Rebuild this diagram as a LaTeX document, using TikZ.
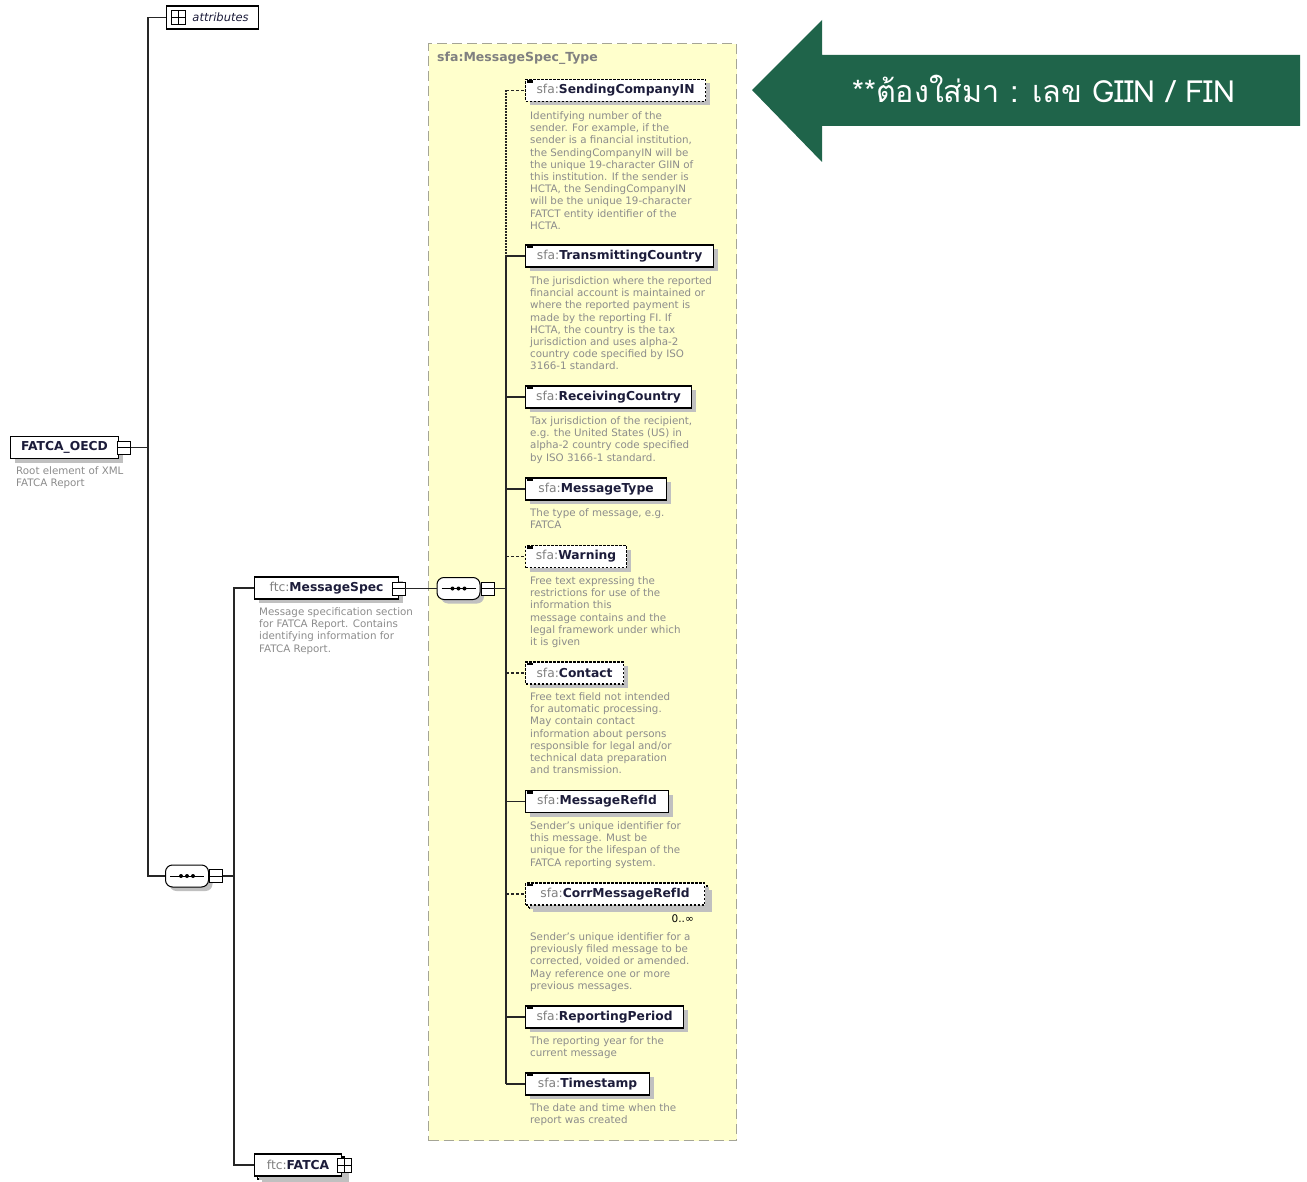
\documentclass[tikz,border=0pt]{standalone}
\usepackage{fontspec}
\setmainfont{DejaVu Sans}
\newfontfamily\thaifont[Script=Thai]{Loma}
\usetikzlibrary{shadows}
\definecolor{pfxc}{RGB}{128,128,128}
\definecolor{namec}{RGB}{28,28,58}
\definecolor{descc}{RGB}{140,140,140}
\definecolor{yel}{RGB}{255,255,204}
\definecolor{yelb}{RGB}{165,165,150}
\definecolor{grn}{RGB}{31,100,74}
\definecolor{shd}{RGB}{192,192,192}
\newcommand{\pfx}[1]{{\mdseries\color{pfxc}#1}}
\newcommand{\XEl}[5][]{%
  \node[elem,#1,minimum width=#4] (#2) at (525,#3) {\pfx{sfa:}#5};
  \fill ([xshift=2pt,yshift=-1.5pt]#2.north west) rectangle ++(6pt,-2.5pt);
}
\begin{document}
\begin{tikzpicture}[x=1pt,y=-1pt,
  conn/.style={line width=1.1pt, draw=black!85},
  optc/.style={dash pattern=on 3pt off 2pt},
  shad/.style={drop shadow={shadow xshift=4pt, shadow yshift=-4pt, fill=shd, opacity=1}},
  box/.style={draw=black, line width=1.1pt, fill=white, minimum height=22pt, inner xsep=0pt, inner ysep=0pt,
    font=\bfseries\fontsize{12.3}{14}\selectfont, text=namec, shad},
  elem/.style={box, anchor=west},
  opt/.style={dash pattern=on 2.5pt off 1.5pt},
  desc/.style={anchor=north west, inner sep=0pt, align=left, font=\fontsize{10.3}{12.2}\selectfont, text=descc},
  mbox/.style={draw=black, fill=white, line width=0.9pt, minimum size=13pt, inner sep=0pt,
    path picture={\draw[line width=0.9pt] (path picture bounding box.west) -- (path picture bounding box.east);}},
  pbox/.style={draw=black, fill=white, line width=0.9pt, minimum size=14pt, inner sep=0pt,
    path picture={\draw[line width=1pt] (path picture bounding box.west) -- (path picture bounding box.east)
      (path picture bounding box.north) -- (path picture bounding box.south);}},
  seq/.style={draw=black, fill=white, line width=1pt, rounded corners=7pt, minimum width=43pt,
    minimum height=22pt, inner sep=0pt, shad},
  typebox/.style={draw=yelb, fill=yel, line width=1.3pt, dash pattern=on 10pt off 5pt, inner sep=0pt}
]
\useasboundingbox (0,0) rectangle (1307,1182);

% type container
\node[typebox, minimum width=308pt, minimum height=1097pt, anchor=north west] (tb) at (428,43) {};
\node[anchor=west, inner sep=0pt, font=\bfseries\fontsize{12.5}{14}\selectfont, text=pfxc] (tbt) at (437,58.5) {sfa:MessageSpec\_Type};

% attributes
\node[draw=black, line width=1.1pt, fill=white, minimum width=92pt, minimum height=23pt, inner sep=0pt,
  anchor=west, font=\itshape\fontsize{11.5}{13}\selectfont, text=namec] (attr) at (166,17.5) {\hspace*{16pt}attributes};
\node[pbox] (attrp) at (178.5,17.5) {};

% root element
\node[box, minimum width=108pt, anchor=west] (oecd) at (10,447.5) {FATCA\_OECD};
\node[mbox] (oecdc) at (124,447.5) {};
\node[desc] (oecdd) at (16,466.5) {Root element of XML\\FATCA Report};

% first sequence
\node[seq] (s1) at (187,876) {};
\node[mbox] (s1c) at (216,876) {};
\draw[line width=1pt] ([xshift=5pt]s1.west) -- ([xshift=-5pt]s1.east);
\foreach \dx in {-6,0,6} \fill ([xshift=\dx pt]s1.center) circle (2pt);

\coordinate (b1) at (148,0);
\draw[conn] (attr.west) -- (attr.west -| b1) -- (s1.west -| b1) -- (s1.west);
\draw[conn] (oecdc.east) -- (oecdc.east -| b1);

% MessageSpec
\node[box, minimum width=144pt, anchor=west] (ms) at (254,588) {\pfx{ftc:}MessageSpec};
\node[mbox] (msc) at (398.5,588.5) {};
\node[desc] (msd) at (259,607.5) {Message specification section\\for FATCA Report. Contains\\identifying information for\\FATCA Report.};

% FATCA (stacked)
\node[box, minimum width=87pt, anchor=west] (fb) at (257,1168) {};
\node[box, minimum width=87pt, anchor=west] (ftc) at (254,1165) {\pfx{ftc:}FATCA};
\node[pbox] (ftcp) at (344,1165.5) {};

\coordinate (b2) at (234,0);
\draw[conn] (s1c.east) -- (s1c.east -| b2);
\draw[conn] (ms.west) -- (ms.west -| b2) -- (ftc.west -| b2) -- (ftc.west);

% second sequence
\node[seq] (s2) at (458.5,588.5) {};
\node[mbox] (s2c) at (487.5,588.5) {};
\draw[line width=1pt] ([xshift=5pt]s2.west) -- ([xshift=-5pt]s2.east);
\foreach \dx in {-6,0,6} \fill ([xshift=\dx pt]s2.center) circle (2pt);
\draw[conn] (msc.east) -- (s2.west);

% child elements
\XEl[opt]{sci}{90.5}{180pt}{SendingCompanyIN}
\XEl{tc}{256}{188pt}{TransmittingCountry}
\XEl{rc}{397}{166pt}{ReceivingCountry}
\XEl{mt}{489}{141pt}{MessageType}
\XEl[opt]{w}{556.5}{101pt}{Warning}
\XEl[opt]{c}{673}{98pt}{Contact}
\XEl{mri}{801.5}{143pt}{MessageRefId}
\node[elem,opt,minimum width=179pt] (cmrib) at (528,897) {};
\XEl[opt]{cmri}{894}{179pt}{CorrMessageRefId}
\XEl{rp}{1017}{158pt}{ReportingPeriod}
\XEl{ts}{1084}{124pt}{Timestamp}
\node[anchor=east, inner sep=0pt, font=\fontsize{10.5}{12}\selectfont] (cmrim) at (694,919) {0..∞};

\coordinate (b3) at (506,0);
\draw[conn] (s2c.east) -- (s2c.east -| b3);
\draw[conn, dash pattern=on 1.2pt off 1.8pt] (sci.west -| b3) -- (tc.west -| b3);
\draw[conn] (tc.west -| b3) -- (ts.west -| b3);
\draw[conn, optc] (sci.west -| b3) -- (sci.west);
\draw[conn] (tc.west -| b3) -- (tc.west);
\draw[conn] (rc.west -| b3) -- (rc.west);
\draw[conn] (mt.west -| b3) -- (mt.west);
\draw[conn, optc] (w.west -| b3) -- (w.west);
\draw[conn, optc] (c.west -| b3) -- (c.west);
\draw[conn] (mri.west -| b3) -- (mri.west);
\draw[conn, optc] (cmri.west -| b3) -- (cmri.west);
\draw[conn] (rp.west -| b3) -- (rp.west);
\draw[conn] (ts.west -| b3) -- (ts.west);

% descriptions
\node[desc] (scid) at (530,111.5) {Identifying number of the\\sender. For example, if the\\sender is a financial institution,\\the SendingCompanyIN will be\\the unique 19-character GIIN of\\this institution. If the sender is\\HCTA, the SendingCompanyIN\\will be the unique 19-character\\FATCT entity identifier of the\\HCTA.};
\node[desc] (tcd) at (530,276.5) {The jurisdiction where the reported\\financial account is maintained or\\where the reported payment is\\made by the reporting FI. If\\HCTA, the country is the tax\\jurisdiction and uses alpha-2\\country code specified by ISO\\3166-1 standard.};
\node[desc] (rcd) at (530,416.5) {Tax jurisdiction of the recipient,\\e.g. the United States (US) in\\alpha-2 country code specified\\by ISO 3166-1 standard.};
\node[desc] (mtd) at (530,508.5) {The type of message, e.g.\\FATCA};
\node[desc] (wd) at (530,576.5) {Free text expressing the\\restrictions for use of the\\information this\\message contains and the\\legal framework under which\\it is given};
\node[desc] (cd) at (530,692.5) {Free text field not intended\\for automatic processing.\\May contain contact\\information about persons\\responsible for legal and/or\\technical data preparation\\and transmission.};
\node[desc] (mrid) at (530,821.5) {Sender's unique identifier for\\this message. Must be\\unique for the lifespan of the\\FATCA reporting system.};
\node[desc] (cmrid) at (530,932.5) {Sender's unique identifier for a\\previously filed message to be\\corrected, voided or amended.\\May reference one or more\\previous messages.};
\node[desc] (rpd) at (530,1036.5) {The reporting year for the\\current message};
\node[desc] (tsd) at (530,1103.5) {The date and time when the\\report was created};

% callout arrow
\fill[grn] (752,90) -- (822,20) -- (822,55) -- (1300,55) -- (1300,126) -- (822,126) -- (822,162) -- cycle;
\node[text=white, inner sep=0pt, font=\thaifont\fontsize{30.5}{36}\selectfont] (note) at (1044,89) {**ต้องใส่มา : เลข GIIN / FIN};
\end{tikzpicture}
\end{document}
